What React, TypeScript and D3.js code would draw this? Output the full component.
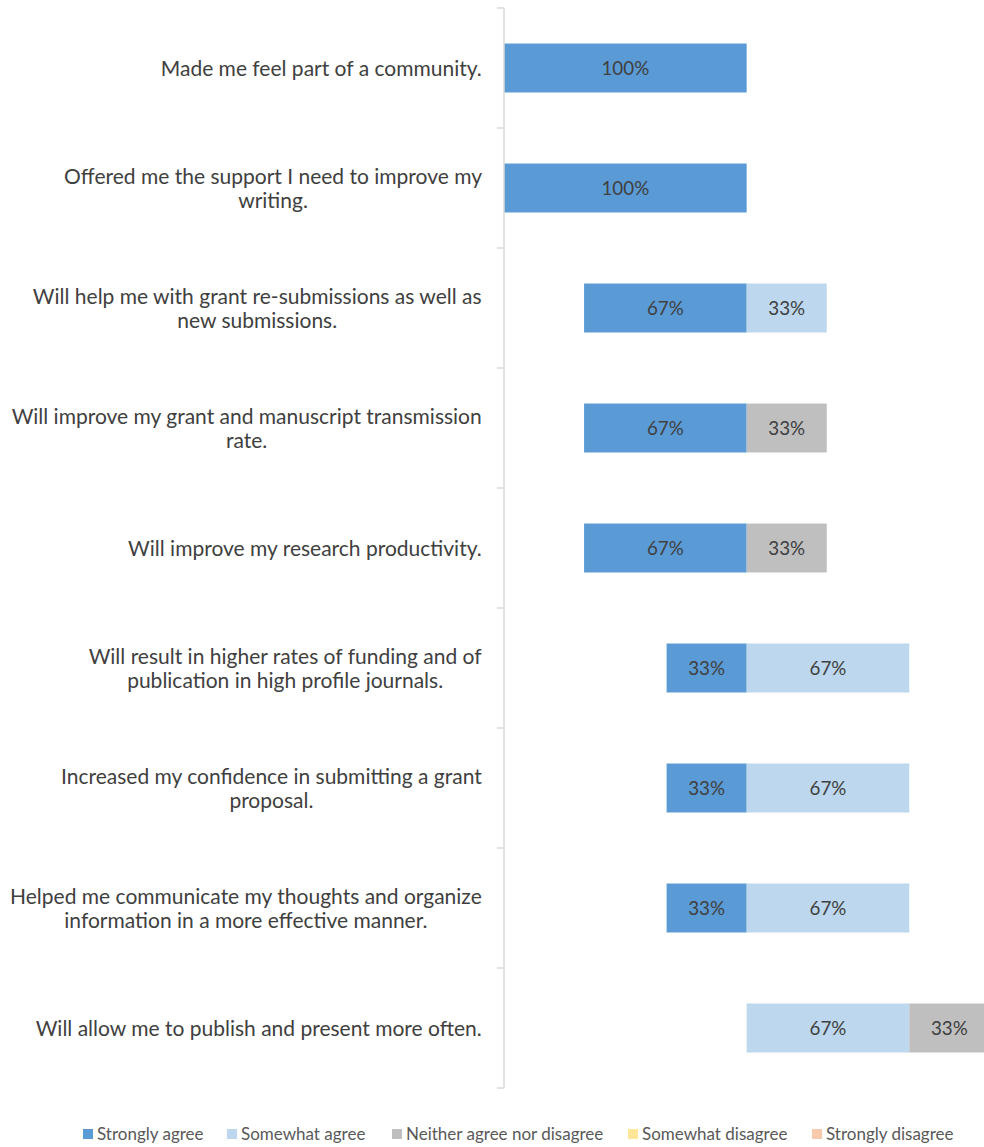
import React from "react";
import * as d3 from "d3";

const categories = [
  "Made me feel part of a community.",
  "Offered me the support I need to improve my\nwriting.",
  "Will help me with grant re-submissions as well as\nnew submissions.",
  "Will improve my grant and manuscript transmission\nrate.",
  "Will improve my research productivity.",
  "Will result in higher rates of funding and of\npublication in high profile journals.",
  "Increased my confidence in submitting a grant\nproposal.",
  "Helped me communicate my thoughts and organize\ninformation in a more effective manner.",
  "Will allow me to publish and present more often.",
];

const stronglyAgree = [100, 100, 67, 67, 67, 33, 33, 33, 0];
const somewhatAgree = [0, 0, 33, 0, 0, 67, 67, 67, 67];
const neitherAgree = [0, 0, 0, 33, 33, 0, 0, 0, 33];
const somewhatDisagree = [0, 0, 0, 0, 0, 0, 0, 0, 0];
const stronglyDisagree = [0, 0, 0, 0, 0, 0, 0, 0, 0];

const seriesNames = [
  "Strongly agree",
  "Somewhat agree",
  "Neither agree nor disagree",
  "Somewhat disagree",
  "Strongly disagree",
];
const seriesColors = ["#5B9BD5", "#BDD7EE", "#BFBFBF", "#FFE699", "#F8CBAD"];
const legendX = [83, 227, 392, 628, 812];

const W = 984;
const H = 1147;
const FONT = "Lato, 'Open Sans', sans-serif";
const LABEL_SIZE = 21;

let measureCtx: CanvasRenderingContext2D | null = null;
function measure(text: string, size: number): number {
  if (!measureCtx) {
    const c = document.createElement("canvas");
    measureCtx = c.getContext("2d");
  }
  if (!measureCtx) return text.length * size * 0.5;
  measureCtx.font = `${size}px ${FONT}`;
  return measureCtx.measureText(text).width;
}

export default function App() {
  const series = [stronglyAgree, somewhatAgree, neitherAgree, somewhatDisagree, stronglyDisagree];
  const y = d3
    .scaleBand<string>()
    .domain(categories)
    .range([8, 1088])
    .paddingInner(0.592)
    .paddingOuter(0.296);
  const x = d3.scaleLinear().domain([-100, 97.8]).range([504, 984]);
  const boundaries = d3.range(categories.length + 1).map((i) => 8 + i * y.step());

  const segments: { key: string; x0: number; x1: number; y: number; h: number; color: string; v: number }[] = [];
  categories.forEach((c, i) => {
    let start = -stronglyAgree[i];
    series.forEach((s, si) => {
      const v = s[i];
      if (v > 0) {
        segments.push({
          key: `${i}-${si}`,
          x0: x(start),
          x1: x(start + v),
          y: y(c)!,
          h: y.bandwidth(),
          color: seriesColors[si],
          v,
        });
      }
      start += v;
    });
  });

  return (
    <svg
      width={W}
      height={H}
      style={{ position: "absolute", left: 0, top: 0, background: "#fff" }}
      fontFamily={FONT}
    >
      <defs>
        <clipPath id="plot">
          <rect x={504} y={0} width={480} height={1100} />
        </clipPath>
      </defs>
      <g clipPath="url(#plot)">
        {segments.map((s) => (
          <g key={s.key}>
            <rect x={s.x0} y={s.y} width={s.x1 - s.x0} height={s.h} fill={s.color} />
            <text
              x={(s.x0 + s.x1) / 2}
              y={s.y + s.h / 2}
              dy="0.36em"
              textAnchor="middle"
              fontSize={18.8}
              fill="#404040"
            >
              {`${s.v}%`}
            </text>
          </g>
        ))}
      </g>
      <line x1={504} x2={504} y1={8} y2={1088} stroke="#D9D9D9" strokeWidth={1.5} />
      {boundaries.map((b, i) => (
        <line key={i} x1={497} x2={504} y1={b} y2={b} stroke="#D9D9D9" strokeWidth={1.5} />
      ))}
      {categories.map((c) => {
        const lines = c.split("\n");
        const cy = y(c)! + y.bandwidth() / 2;
        const lh = 24;
        const maxW = Math.max(...lines.map((l) => measure(l, LABEL_SIZE)));
        const cx = 482 - maxW / 2;
        return (
          <text key={c} textAnchor="middle" fontSize={LABEL_SIZE} fill="#404040">
            {lines.map((l, li) => (
              <tspan key={li} x={cx} y={cy + (li - (lines.length - 1) / 2) * lh} dy="0.36em">
                {l}
              </tspan>
            ))}
          </text>
        );
      })}
      {seriesNames.map((n, i) => (
        <g key={n}>
          <rect x={legendX[i]} y={1129} width={10} height={10} fill={seriesColors[i]} />
          <text x={legendX[i] + 14} y={1134} dy="0.36em" fontSize={17} fill="#595959">
            {n}
          </text>
        </g>
      ))}
    </svg>
  );
}
